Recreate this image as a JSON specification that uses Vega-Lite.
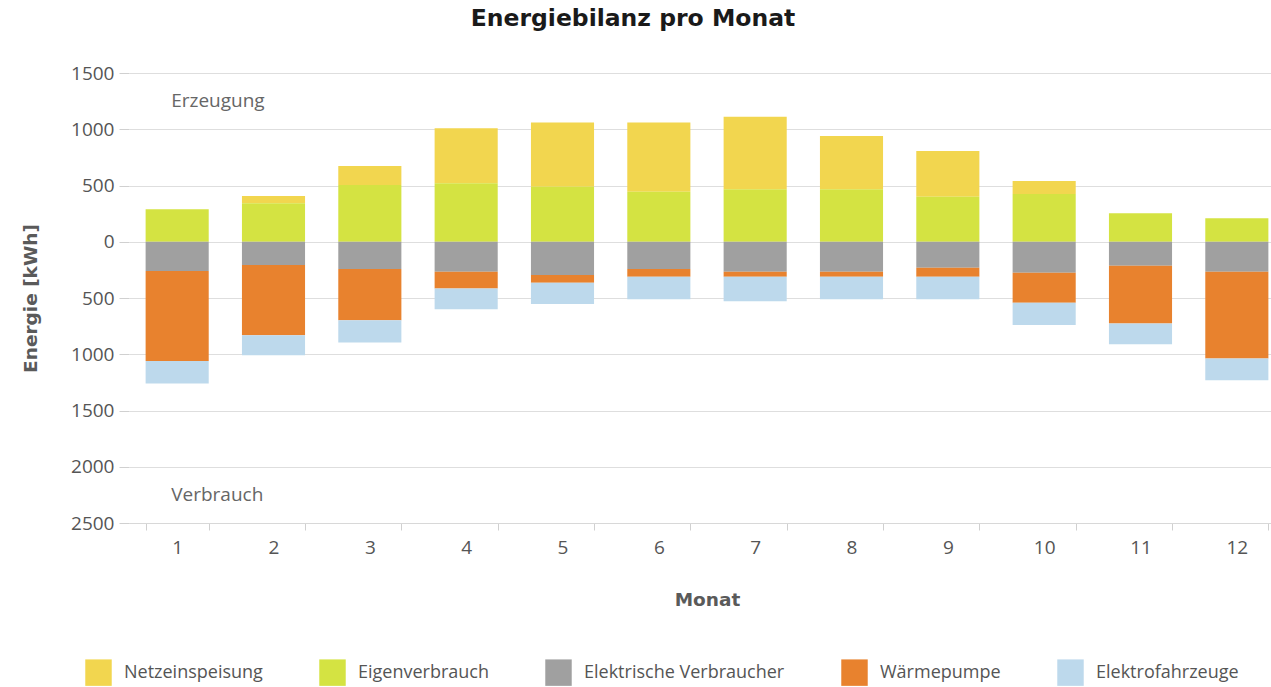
{
  "$schema": "https://vega.github.io/schema/vega-lite/v6.json",
  "width": 1142,
  "height": 450,
  "autosize": {"type": "none"},
  "padding": {"left": 129, "top": 73, "right": 0, "bottom": 164},
  "background": "white",
  "title": {
    "text": "Energiebilanz pro Monat",
    "font": "DejaVu Sans",
    "fontSize": 23.5,
    "fontWeight": "bold",
    "color": "#1a1a1a",
    "anchor": "middle",
    "dx": -67,
    "offset": 34
  },
  "config": {
    "view": {"stroke": null},
    "font": "Open Sans"
  },
  "datasets": {
    "energy": [
      {"m": 1, "cat": "Netzeinspeisung", "ord": 2, "v": 0},
      {"m": 1, "cat": "Eigenverbrauch", "ord": 1, "v": 288},
      {"m": 1, "cat": "Elektrische Verbraucher", "ord": 3, "v": -261},
      {"m": 1, "cat": "Wärmepumpe", "ord": 4, "v": -800},
      {"m": 1, "cat": "Elektrofahrzeuge", "ord": 5, "v": -200},
      {"m": 2, "cat": "Netzeinspeisung", "ord": 2, "v": 65},
      {"m": 2, "cat": "Eigenverbrauch", "ord": 1, "v": 342},
      {"m": 2, "cat": "Elektrische Verbraucher", "ord": 3, "v": -207},
      {"m": 2, "cat": "Wärmepumpe", "ord": 4, "v": -623},
      {"m": 2, "cat": "Elektrofahrzeuge", "ord": 5, "v": -178},
      {"m": 3, "cat": "Netzeinspeisung", "ord": 2, "v": 169},
      {"m": 3, "cat": "Eigenverbrauch", "ord": 1, "v": 504},
      {"m": 3, "cat": "Elektrische Verbraucher", "ord": 3, "v": -243},
      {"m": 3, "cat": "Wärmepumpe", "ord": 4, "v": -454},
      {"m": 3, "cat": "Elektrofahrzeuge", "ord": 5, "v": -198},
      {"m": 4, "cat": "Netzeinspeisung", "ord": 2, "v": 490},
      {"m": 4, "cat": "Eigenverbrauch", "ord": 1, "v": 519},
      {"m": 4, "cat": "Elektrische Verbraucher", "ord": 3, "v": -267},
      {"m": 4, "cat": "Wärmepumpe", "ord": 4, "v": -148},
      {"m": 4, "cat": "Elektrofahrzeuge", "ord": 5, "v": -184},
      {"m": 5, "cat": "Netzeinspeisung", "ord": 2, "v": 570},
      {"m": 5, "cat": "Eigenverbrauch", "ord": 1, "v": 489},
      {"m": 5, "cat": "Elektrische Verbraucher", "ord": 3, "v": -296},
      {"m": 5, "cat": "Wärmepumpe", "ord": 4, "v": -69},
      {"m": 5, "cat": "Elektrofahrzeuge", "ord": 5, "v": -189},
      {"m": 6, "cat": "Netzeinspeisung", "ord": 2, "v": 614},
      {"m": 6, "cat": "Eigenverbrauch", "ord": 1, "v": 445},
      {"m": 6, "cat": "Elektrische Verbraucher", "ord": 3, "v": -243},
      {"m": 6, "cat": "Wärmepumpe", "ord": 4, "v": -68},
      {"m": 6, "cat": "Elektrofahrzeuge", "ord": 5, "v": -199},
      {"m": 7, "cat": "Netzeinspeisung", "ord": 2, "v": 646},
      {"m": 7, "cat": "Eigenverbrauch", "ord": 1, "v": 466},
      {"m": 7, "cat": "Elektrische Verbraucher", "ord": 3, "v": -267},
      {"m": 7, "cat": "Wärmepumpe", "ord": 4, "v": -44},
      {"m": 7, "cat": "Elektrofahrzeuge", "ord": 5, "v": -217},
      {"m": 8, "cat": "Netzeinspeisung", "ord": 2, "v": 474},
      {"m": 8, "cat": "Eigenverbrauch", "ord": 1, "v": 466},
      {"m": 8, "cat": "Elektrische Verbraucher", "ord": 3, "v": -267},
      {"m": 8, "cat": "Wärmepumpe", "ord": 4, "v": -44},
      {"m": 8, "cat": "Elektrofahrzeuge", "ord": 5, "v": -199},
      {"m": 9, "cat": "Netzeinspeisung", "ord": 2, "v": 407},
      {"m": 9, "cat": "Eigenverbrauch", "ord": 1, "v": 400},
      {"m": 9, "cat": "Elektrische Verbraucher", "ord": 3, "v": -231},
      {"m": 9, "cat": "Wärmepumpe", "ord": 4, "v": -80},
      {"m": 9, "cat": "Elektrofahrzeuge", "ord": 5, "v": -199},
      {"m": 10, "cat": "Netzeinspeisung", "ord": 2, "v": 116},
      {"m": 10, "cat": "Eigenverbrauch", "ord": 1, "v": 424},
      {"m": 10, "cat": "Elektrische Verbraucher", "ord": 3, "v": -276},
      {"m": 10, "cat": "Wärmepumpe", "ord": 4, "v": -267},
      {"m": 10, "cat": "Elektrofahrzeuge", "ord": 5, "v": -198},
      {"m": 11, "cat": "Netzeinspeisung", "ord": 2, "v": 0},
      {"m": 11, "cat": "Eigenverbrauch", "ord": 1, "v": 253},
      {"m": 11, "cat": "Elektrische Verbraucher", "ord": 3, "v": -213},
      {"m": 11, "cat": "Wärmepumpe", "ord": 4, "v": -513},
      {"m": 11, "cat": "Elektrofahrzeuge", "ord": 5, "v": -184},
      {"m": 12, "cat": "Netzeinspeisung", "ord": 2, "v": 0},
      {"m": 12, "cat": "Eigenverbrauch", "ord": 1, "v": 208},
      {"m": 12, "cat": "Elektrische Verbraucher", "ord": 3, "v": -267},
      {"m": 12, "cat": "Wärmepumpe", "ord": 4, "v": -770},
      {"m": 12, "cat": "Elektrofahrzeuge", "ord": 5, "v": -193}
    ],
    "labels": [
      {"m": 1, "v": 1250, "t": "Erzeugung"},
      {"m": 1, "v": -2250, "t": "Verbrauch"}
    ]
  },
  "encoding": {
    "x": {
      "field": "m",
      "type": "ordinal",
      "scale": {"range": [0, 1156], "paddingInner": 0.345, "paddingOuter": 0.1725},
      "axis": {
        "title": "Monat",
        "titleFont": "DejaVu Sans",
        "titleFontSize": 18.5,
        "titleFontWeight": "bold",
        "titleColor": "#5a5a5a",
        "titleX": 578,
        "titlePadding": 33,
        "labelAngle": 0,
        "labelFont": "Open Sans",
        "labelFontSize": 19,
        "labelColor": "#555555",
        "labelPadding": 8,
        "tickBand": "extent",
        "tickColor": "#d0d0d0",
        "tickSize": 7,
        "domainColor": "#d8d8d8",
        "grid": false
      }
    }
  },
  "layer": [
    {
      "data": {"name": "energy"},
      "mark": {"type": "bar"},
      "encoding": {
        "y": {
          "field": "v",
          "type": "quantitative",
          "stack": "zero",
          "scale": {"domain": [-2500, 1500], "nice": false, "zero": true},
          "axis": {
            "title": "Energie [kWh]",
            "titleFont": "DejaVu Sans",
            "titleFontSize": 18.5,
            "titleFontWeight": "bold",
            "titleColor": "#5a5a5a",
            "titlePadding": 30,
            "values": [-2500, -2000, -1500, -1000, -500, 0, 500, 1000, 1500],
            "labelExpr": "format(abs(datum.value), 'd')",
            "labelFont": "Open Sans",
            "labelFontSize": 19,
            "labelColor": "#555555",
            "labelPadding": 5,
            "tickColor": "#d0d0d0",
            "tickSize": 10,
            "domain": false,
            "gridColor": "#dedede",
            "gridWidth": 1
          }
        },
        "color": {
          "field": "cat",
          "type": "nominal",
          "scale": {
            "domain": ["Netzeinspeisung", "Eigenverbrauch", "Elektrische Verbraucher", "Wärmepumpe", "Elektrofahrzeuge"],
            "range": ["#F2D64F", "#D4E342", "#A0A0A0", "#E8822E", "#BDD9EC"]
          },
          "legend": {
            "title": null,
            "orient": "none",
            "direction": "horizontal",
            "legendX": -44,
            "legendY": 586,
            "symbolType": "square",
            "symbolSize": 700,
            "symbolStrokeWidth": 0,
            "symbolOpacity": 1,
            "labelFont": "Open Sans",
            "labelFontSize": 18,
            "labelLimit": 400,
            "labelColor": "#555555",
            "labelOffset": 12,
            "columnPadding": 56
          }
        },
        "order": {"field": "ord", "type": "quantitative"}
      }
    },
    {
      "data": {"name": "labels"},
      "mark": {"type": "text", "align": "left", "baseline": "middle", "dx": -6, "font": "Open Sans", "fontSize": 19, "color": "#666666"},
      "encoding": {
        "y": {"field": "v", "type": "quantitative"},
        "text": {"field": "t"}
      }
    }
  ]
}
